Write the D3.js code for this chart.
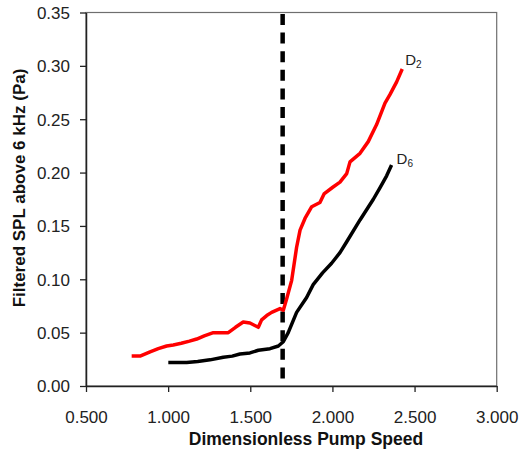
<!DOCTYPE html>
<html>
<head>
<meta charset="utf-8">
<script src="https://cdn.jsdelivr.net/npm/d3@7"></script>
<style>
  html, body { margin: 0; padding: 0; background: #fff; }
  svg { display: block; font-family: "Liberation Sans", Arial, sans-serif; }
</style>
</head>
<body>
<svg id="chart" width="519" height="451"></svg>
<script>
// ---- data ----
const xTicks = [0.5, 1.0, 1.5, 2.0, 2.5, 3.0];
const yTicks = [0, 0.05, 0.10, 0.15, 0.20, 0.25, 0.30, 0.35];
const d2X = [0.778, 0.829, 0.890, 0.940, 0.991, 1.031, 1.080, 1.130, 1.174, 1.220, 1.275, 1.320, 1.366, 1.410, 1.457, 1.498, 1.549, 1.569, 1.600, 1.630, 1.681, 1.701, 1.722, 1.752, 1.782, 1.803, 1.833, 1.874, 1.924, 1.949, 2.000, 2.046, 2.087, 2.107, 2.168, 2.218, 2.269, 2.320, 2.350, 2.391, 2.425];
const d2Y = [0.028, 0.028, 0.032, 0.035, 0.0375, 0.0385, 0.040, 0.042, 0.044, 0.047, 0.050, 0.050, 0.050, 0.055, 0.060, 0.059, 0.055, 0.062, 0.066, 0.069, 0.0725, 0.071, 0.082, 0.099, 0.130, 0.146, 0.157, 0.168, 0.172, 0.180, 0.186, 0.191, 0.199, 0.210, 0.218, 0.229, 0.245, 0.265, 0.273, 0.285, 0.297];
const d6X = [1.001, 1.113, 1.180, 1.255, 1.336, 1.390, 1.437, 1.498, 1.549, 1.620, 1.671, 1.701, 1.731, 1.782, 1.843, 1.883, 1.940, 1.995, 2.046, 2.087, 2.168, 2.249, 2.290, 2.330, 2.360];
const d6Y = [0.022, 0.022, 0.023, 0.0245, 0.027, 0.028, 0.030, 0.031, 0.0335, 0.035, 0.0375, 0.0415, 0.050, 0.069, 0.083, 0.095, 0.106, 0.115, 0.125, 0.1352, 0.1556, 0.175, 0.186, 0.197, 0.207];
const thresholdX = 1.697;
const seriesNames = ["D", "D"];
const seriesSubs = ["2", "6"];
const xTitle = "Dimensionless Pump Speed";
const yTitle = "Filtered SPL above 6 kHz (Pa)";

// ---- layout ----
const svg = d3.select("#chart");
const L = 86, R = 496.7, T = 12.5, B = 386;
const x = d3.scaleLinear().domain([0.5, 3.0]).range([L, R]);
const y = d3.scaleLinear().domain([0, 0.35]).range([B, T]);

// frame (top/right)
svg.append("rect").attr("x", L).attr("y", T).attr("width", R - L).attr("height", B - T)
  .attr("fill", "none").attr("stroke", "#6e6e6e").attr("stroke-width", 1.2);

// axes
const xAxis = svg.append("g").attr("transform", `translate(0,${B})`)
  .call(d3.axisBottom(x).tickValues(xTicks).tickFormat(d3.format(".3f")).tickSize(6).tickSizeOuter(0));
const yAxis = svg.append("g").attr("transform", `translate(${L},0)`)
  .call(d3.axisLeft(y).tickValues(yTicks).tickFormat(d3.format(".2f")).tickSize(6).tickSizeOuter(0));
[xAxis, yAxis].forEach(g => {
  g.select(".domain").attr("stroke", "#222").attr("stroke-width", 1.5);
  g.selectAll(".tick line").attr("stroke", "#222").attr("stroke-width", 1.3);
  g.selectAll(".tick text").attr("fill", "#222").style("font-size", "17px")
    .style("font-family", "'Liberation Sans', Arial, sans-serif");
});
xAxis.selectAll(".tick text").attr("dy", "0").attr("y", 37);
yAxis.selectAll(".tick text").attr("x", -16).attr("dy", "0.35em");

// threshold dashed line
svg.append("line").attr("x1", x(thresholdX)).attr("x2", x(thresholdX))
  .attr("y1", T + 1.5).attr("y2", B)
  .attr("stroke", "#000").attr("stroke-width", 4.5).attr("stroke-dasharray", "11,7.6");

// series
const line = d3.line().x(d => x(d[0])).y(d => y(d[1])).curve(d3.curveLinear);
const d2 = d2X.map((v, i) => [v, d2Y[i]]);
const d6 = d6X.map((v, i) => [v, d6Y[i]]);
svg.append("path").datum(d6).attr("d", line).attr("fill", "none")
  .attr("stroke", "#000").attr("stroke-width", 3.5).attr("stroke-linejoin", "round");
svg.append("path").datum(d2).attr("d", line).attr("fill", "none")
  .attr("stroke", "#ff0000").attr("stroke-width", 3.5).attr("stroke-linejoin", "round");

// series labels
function seriesLabel(px, py, i) {
  const t = svg.append("text").attr("x", px).attr("y", py)
    .attr("fill", "#222").style("font-size", "15px");
  t.append("tspan").text(seriesNames[i]);
  t.append("tspan").attr("dy", 3).style("font-size", "10px").text(seriesSubs[i]);
}
seriesLabel(x(d2X[d2X.length - 1]) + 3, y(d2Y[d2Y.length - 1]) - 4, 0);
seriesLabel(x(d6X[d6X.length - 1]) + 5, y(d6Y[d6Y.length - 1]) - 1, 1);

// axis titles
svg.append("text").attr("x", 306).attr("y", 445).attr("text-anchor", "middle")
  .attr("fill", "#111").style("font-size", "17.5px").style("font-weight", "bold").text(xTitle);
svg.append("text").attr("transform", "translate(25,188) rotate(-90)").attr("text-anchor", "middle")
  .attr("fill", "#111").style("font-size", "17px").style("font-weight", "bold").text(yTitle);
</script>
</body>
</html>
